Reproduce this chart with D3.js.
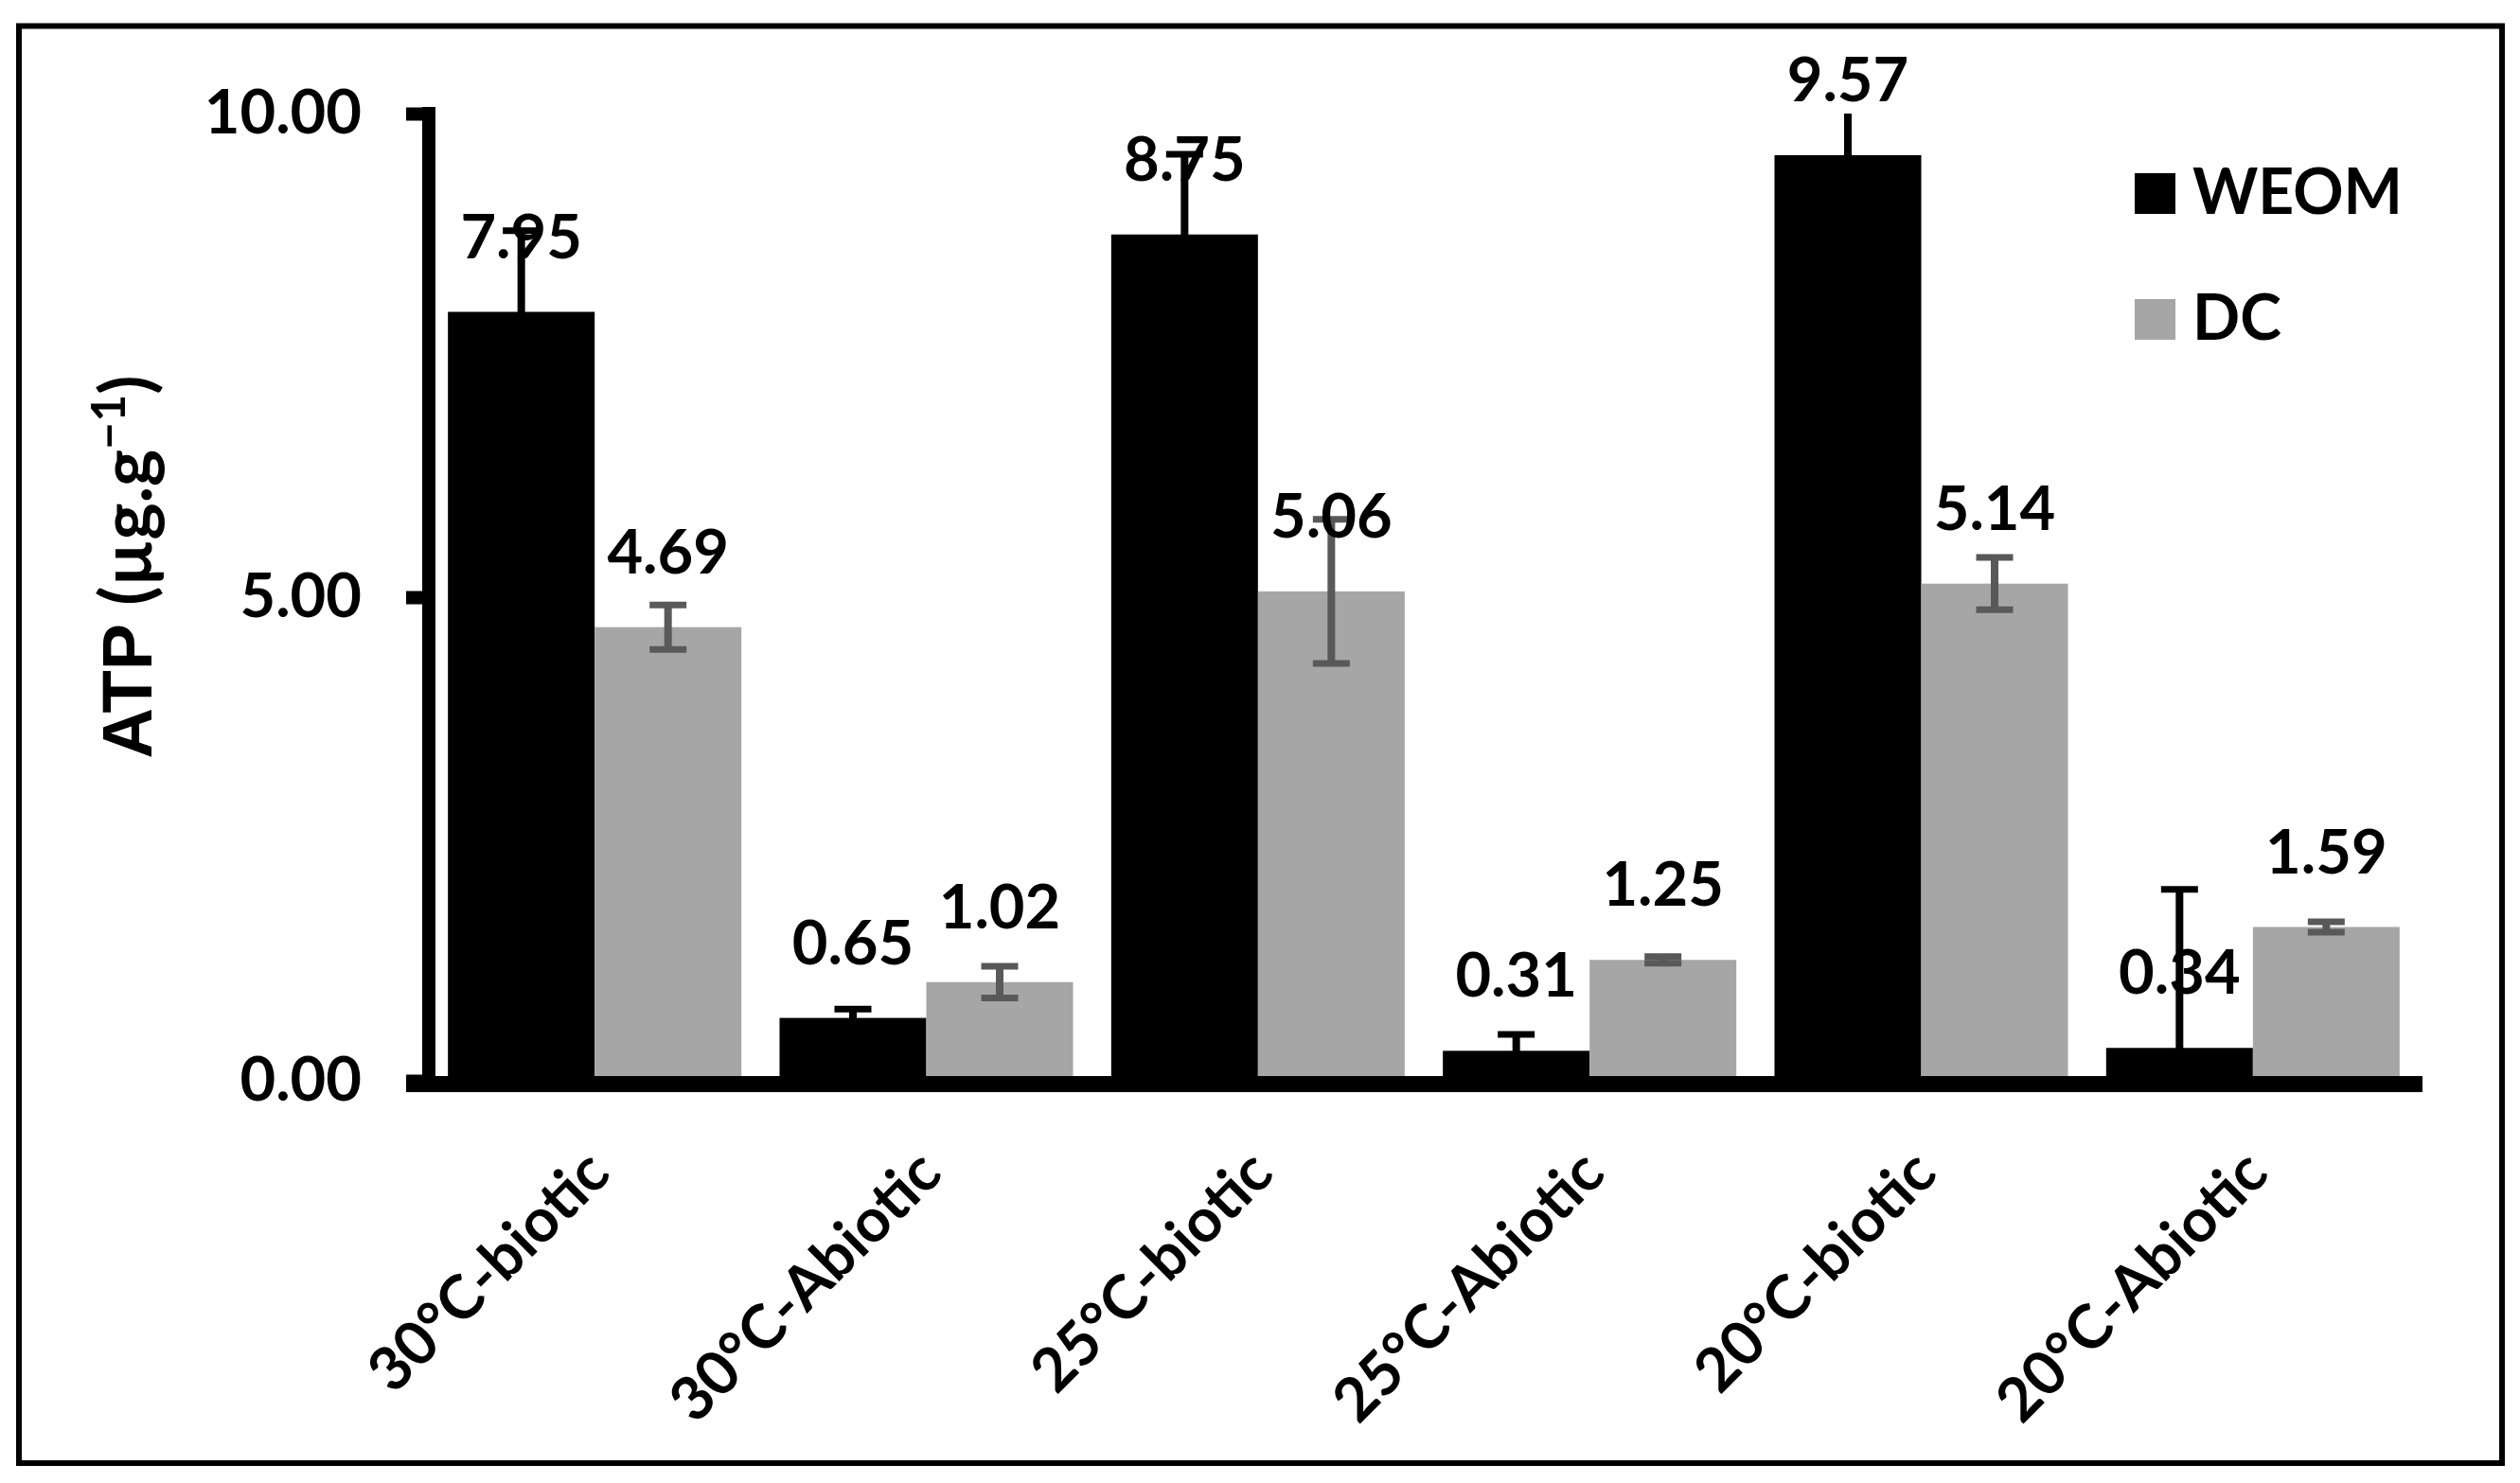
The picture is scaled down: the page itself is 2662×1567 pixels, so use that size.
<!DOCTYPE html>
<html>
<head>
<meta charset="utf-8">
<script src="https://cdn.jsdelivr.net/npm/d3@7"></script>
<style>
  html, body { margin: 0; padding: 0; background: #fff; }
  svg { display: block; }
  text { font-family: Lato, "Open Sans", sans-serif; font-weight: 700; fill: #000; }
</style>
</head>
<body>
<svg id="chart" width="2662" height="1567"></svg>
<script>
const categories = ["30°C-biotic", "30°C-Abiotic", "25°C-biotic", "25°C-Abiotic", "20°C-biotic", "20°C-Abiotic"];
const seriesNames = ["WEOM", "DC"];
const weomValues = [7.95, 0.65, 8.75, 0.31, 9.57, 0.34];
const dcValues = [4.69, 1.02, 5.06, 1.25, 5.14, 1.59];
const weomErrors = [0.84, 0.09, 0.83, 0.17, 0.6, 1.64];
const dcErrors = [0.23, 0.165, 0.745, 0.035, 0.27, 0.055];
const yTickValues = [0, 5, 10];

const colors = { WEOM: "#000000", DC: "#a6a6a6" };
const errColors = { WEOM: "#000000", DC: "#595959" };

const rows = [];
categories.forEach((c, i) => {
  rows.push({ cat: c, series: "WEOM", value: weomValues[i], err: weomErrors[i] });
  rows.push({ cat: c, series: "DC", value: dcValues[i], err: dcErrors[i] });
});

const svg = d3.select("#chart");

// outer frame
svg.append("rect")
  .attr("x", 20).attr("y", 27.5).attr("width", 2623).attr("height", 1518.5)
  .attr("fill", "none").attr("stroke", "#000").attr("stroke-width", 6);

const x0 = d3.scaleBand().domain(categories).range([453, 2555]).paddingInner(0).paddingOuter(0);
const x1 = d3.scaleBand().domain(seriesNames).range([0, x0.bandwidth()]).paddingInner(0).paddingOuter(0.13);
const y = d3.scaleLinear().domain([0, 10]).range([1142, 120]);

svg.append("defs").append("clipPath").attr("id", "plotClip")
  .append("rect").attr("x", 453).attr("y", y(10)).attr("width", 2555 - 453).attr("height", y(0) - y(10));

// bars
svg.append("g").selectAll("rect").data(rows).join("rect")
  .attr("x", d => x0(d.cat) + x1(d.series))
  .attr("y", d => y(d.value))
  .attr("width", x1.bandwidth())
  .attr("height", d => y(0) - y(d.value))
  .attr("fill", d => colors[d.series]);

// error bars
const eg = svg.append("g").attr("clip-path", "url(#plotClip)");
const capW = 39;
rows.forEach(d => {
  const cx = x0(d.cat) + x1(d.series) + x1.bandwidth() / 2;
  const yt = y(d.value + d.err), yb = y(d.value - d.err);
  const col = errColors[d.series];
  eg.append("line").attr("x1", cx).attr("x2", cx).attr("y1", yt).attr("y2", yb)
    .attr("stroke", col).attr("stroke-width", 8);
  [yt, yb].forEach(yy => {
    eg.append("line").attr("x1", cx - capW / 2).attr("x2", cx + capW / 2).attr("y1", yy).attr("y2", yy)
      .attr("stroke", col).attr("stroke-width", 7);
  });
});

// y axis
const yAxis = d3.axisLeft(y).tickValues(yTickValues).tickFormat(d3.format(".2f")).tickSize(24).tickPadding(47);
const yg = svg.append("g").attr("transform", "translate(453,0)").call(yAxis);
yg.select(".domain").remove();
yg.selectAll(".tick line").attr("stroke", "#000").attr("stroke-width", 14);
yg.selectAll(".tick text").attr("font-size", 65).attr("font-family", "Lato").attr("font-weight", 700).attr("fill", "#000");
svg.append("line").attr("x1", 453).attr("x2", 453).attr("y1", 113).attr("y2", 1154)
  .attr("stroke", "#000").attr("stroke-width", 14);

// x axis
const xAxis = d3.axisBottom(x0).tickSize(0);
const xg = svg.append("g").attr("transform", `translate(0,${y(0)})`).call(xAxis);
xg.select(".domain").remove();
xg.selectAll(".tick text")
  .attr("y", 0).attr("dy", 0)
  .attr("text-anchor", "end")
  .attr("transform", "translate(19,101) rotate(-45)")
  .attr("font-size", 64).attr("font-family", "Lato").attr("font-weight", 700).attr("fill", "#000");
svg.append("line").attr("x1", 429).attr("x2", 2559).attr("y1", 1145.5).attr("y2", 1145.5)
  .attr("stroke", "#000").attr("stroke-width", 17);

// value labels
svg.append("g").selectAll("text").data(rows).join("text")
  .attr("x", d => x0(d.cat) + x1(d.series) + x1.bandwidth() / 2)
  .attr("y", d => y(d.value) - 57)
  .attr("text-anchor", "middle")
  .attr("font-size", 65)
  .text(d => d3.format(".2f")(d.value));

// y title
const yt = svg.append("text")
  .attr("transform", "translate(160,599) rotate(-90)")
  .attr("text-anchor", "middle")
  .attr("font-size", 74);
yt.append("tspan").attr("font-family", "'Liberation Sans', Arial, sans-serif").text("ATP ");
yt.append("tspan").text("(µg.g");
yt.append("tspan").attr("font-size", 50).attr("dy", -28).text("−1");
yt.append("tspan").attr("dy", 28).text(")");

// legend
const lg = svg.append("g");
seriesNames.forEach((s, i) => {
  const yy = 183 + i * 133;
  lg.append("rect").attr("x", 2255).attr("y", yy).attr("width", 43).attr("height", 43).attr("fill", colors[s]);
  lg.append("text").attr("x", 2316).attr("y", yy + 43).attr("font-size", 66).text(s);
});
</script>
</body>
</html>
